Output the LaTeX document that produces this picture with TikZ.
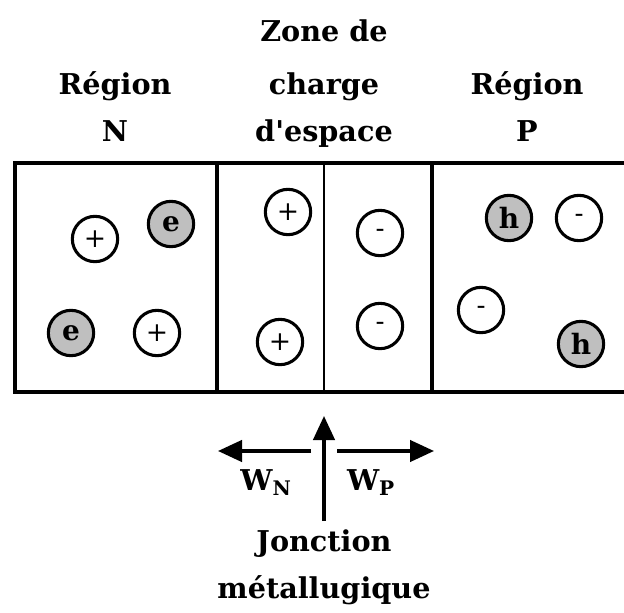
\documentclass[tikz,border=0pt]{standalone}
\usepackage{fontspec}
\setmainfont{DejaVu Serif}
\usetikzlibrary{arrows.meta}

\tikzset{every picture/.style={line width=0.75pt}}
\tikzset{
  regiontext/.style={anchor=base,inner sep=0.75pt,font=\bfseries\fontsize{21.5}{24}\selectfont},
  ion/.style={circle,draw,line width=2.3pt,minimum size=34pt,inner sep=0pt,font=\fontsize{20}{20}\selectfont},
  carrier/.style={ion,fill=black!25,font=\bfseries\fontsize{21}{21}\selectfont},
  bigarrow/.style={line width=2.5pt,-{Triangle[length=18pt,width=16pt]}},
}

\begin{document}
\begin{tikzpicture}[x=0.75pt,y=0.75pt,yscale=-1,xscale=1]
\useasboundingbox (0,0) rectangle (624,613);

%Straight Lines: outer frame
\draw [line width=3.2pt]  (640,163) -- (15,163) -- (15,392) -- (640,392) ;
%Straight Lines: dividers
\draw [line width=3.6pt]  (217,163) -- (217,392) ;
\draw [line width=1.5pt]  (324,163) -- (324,392) ;
\draw [line width=3.6pt]  (432,163) -- (432,392) ;

%Shape: Circle, region N
\node [ion] (nplusa) at (95,239) {+};
\node [carrier] (nelca) at (171,224) {e};
\node [carrier] (nelcb) at (71,333) {e};
\node [ion] (nplusb) at (157,333) {+};
%Shape: Circle, space charge zone
\node [ion] (zplusa) at (288,212) {+};
\node [ion] (zplusb) at (280,342) {+};
\node [ion] (zmina) at (380,233) {-};
\node [ion] (zminb) at (380,326) {-};
%Shape: Circle, region P
\node [carrier] (phola) at (509,218) {h};
\node [ion] (pmina) at (579,218) {-};
\node [ion] (pminb) at (481,310) {-};
\node [carrier] (pholb) at (581,344) {h};

% Text Node
\node [regiontext] (zone) at (324,42) {Zone de};
\node [regiontext] (regn) at (115,95) {Région};
\node [regiontext] (charge) at (324,95) {charge};
\node [regiontext] (regp) at (527,95) {Région};
\node [regiontext] (letn) at (115,142) {N};
\node [regiontext] (espace) at (324,142) {d\textquotesingle espace};
\node [regiontext] (letp) at (527,142) {P};

%Arrows
\coordinate (jbot) at (324,521);
\coordinate (jtop) at (324,416);
\coordinate (wnin) at (311,451);
\coordinate (wnout) at (218,451);
\coordinate (wpin) at (337,451);
\coordinate (wpout) at (434,451);
\draw [bigarrow] (jbot) -- (jtop) ;
\draw [bigarrow] (wnin) -- (wnout) ;
\draw [bigarrow] (wpin) -- (wpout) ;

% Text Node
\node [regiontext] (wn) at (266,490) {W\textsubscript{N}};
\node [regiontext] (wp) at (371,490) {W\textsubscript{P}};
\node [regiontext] (jonction) at (324,551) {Jonction};
\node [regiontext] (metal) at (324,598) {métallugique};

\end{tikzpicture}
\end{document}
